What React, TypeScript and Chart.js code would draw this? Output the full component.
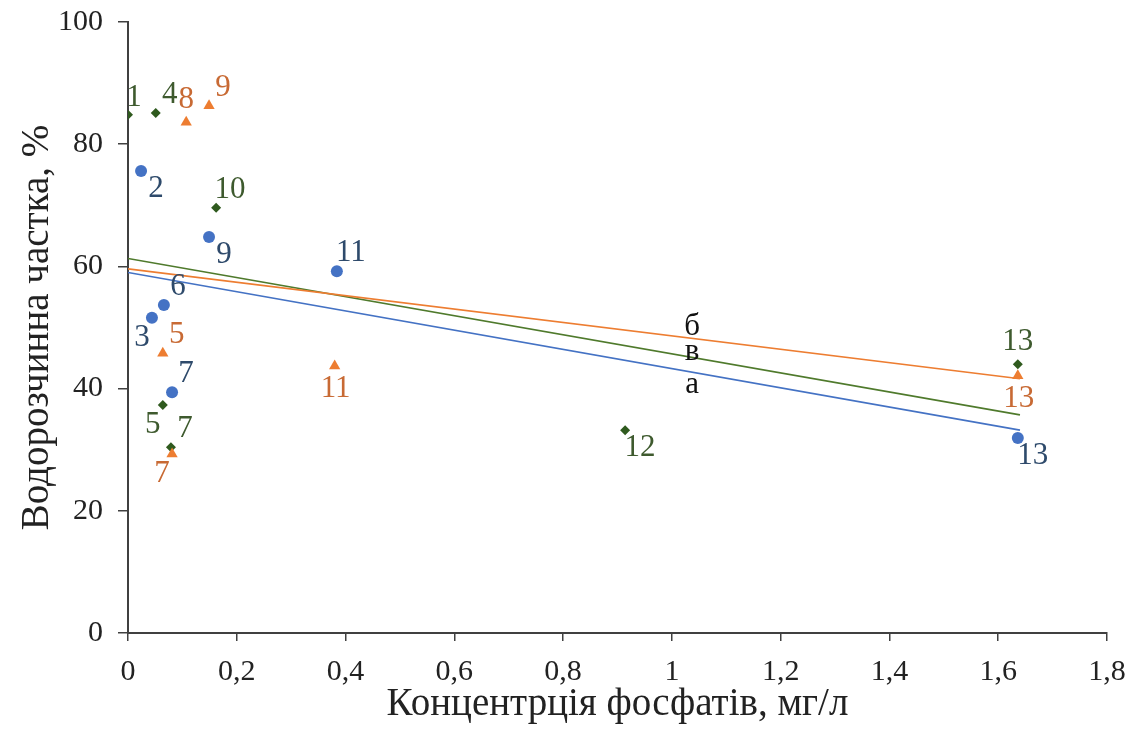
import React, { useEffect, useRef } from 'react';
import { Chart, registerables } from 'chart.js';

Chart.register(...registerables);

// Series "а" (blue circles)
const aX = [0.024, 0.149, 0.044, 0.066, 0.081, 0.384, 1.636];
const aY = [75.6, 64.8, 51.6, 53.7, 39.4, 59.2, 31.9];
const aLabels = ['2', '9', '3', '6', '7', '11', '13'];
const aPlace = ['br', 'br', 'bl', 'tr', 'tr', 'tr', 'br'];

// Series "б" (orange triangles)
const bX = [0.107, 0.149, 0.064, 0.081, 0.38, 1.636];
const bY = [83.6, 86.3, 45.8, 29.3, 43.7, 42.1];
const bLabels = ['8', '9', '5', '7', '11', '13'];
const bPlace = ['t', 'tr', 'tr', 'bl', 'b', 'b'];

// Series "в" (green diamonds)
const cX = [0.0, 0.051, 0.162, 0.064, 0.079, 0.914, 1.636];
const cY = [84.8, 85.1, 69.6, 37.3, 30.4, 33.2, 44.0];
const cLabels = ['1', '4', '10', '5', '7', '12', '13'];
const cPlace = ['trs', 'tr', 'tr', 'bl', 'tr', 'br', 't'];

// Trend lines (start x, end x and fitted values)
const trendX = [0, 1.64];
const trendA = [59.0, 33.2];
const trendB = [59.6, 41.6];
const trendC = [61.3, 35.7];

// Trend line letters
const trendLetters = ['а', 'б', 'в'];
const trendLetterX = [1.037, 1.037, 1.037];
const trendLetterY = [40.6, 50.1, 46.0];

const xTickLabels = ['0', '0,2', '0,4', '0,6', '0,8', '1', '1,2', '1,4', '1,6', '1,8'];
const yTickLabels = ['0', '20', '40', '60', '80', '100'];

const xTitle = 'Концентрція фосфатів, мг/л';
const yTitle = 'Водорозчинна частка, %';

const FONT = '"Liberation Serif", "Times New Roman", serif';
const BLUE = '#4472C4';
const ORANGE = '#ED7D31';
const GREEN = '#2F5A1E';
const GREEN_LINE = '#4F7A2C';
const AXIS = '#404040';

const OFFSETS: Record<string, [number, number]> = {
  tr: [14, -18],
  trs: [6, -17],
  br: [15, 18],
  bl: [-10, 20],
  t: [0, -22],
  b: [1, 23],
};

const pts = (xs: number[], ys: number[]) => xs.map((x, i) => ({ x, y: ys[i] }));

export default function App() {
  const ref = useRef<HTMLCanvasElement>(null);

  useEffect(() => {
    document.body.style.margin = '0';
    const canvas = ref.current;
    if (!canvas) return;

    const labelSets = [
      { labels: aLabels, place: aPlace, color: '#2E4A6B' },
      { labels: bLabels, place: bPlace, color: '#C86A34' },
      { labels: cLabels, place: cPlace, color: '#3E5A2E' },
    ];

    const labelPlugin = {
      id: 'pointLabels',
      afterDatasetsDraw(chart: any) {
        const ctx = chart.ctx;
        ctx.save();
        ctx.font = `31px ${FONT}`;
        ctx.textAlign = 'center';
        ctx.textBaseline = 'middle';
        labelSets.forEach((set, di) => {
          const meta = chart.getDatasetMeta(di);
          meta.data.forEach((el: any, j: number) => {
            const off = OFFSETS[set.place[j]] || [0, 0];
            ctx.fillStyle = set.color;
            ctx.fillText(set.labels[j], el.x + off[0], el.y + off[1]);
          });
        });
        const xs = chart.scales.x;
        const ys = chart.scales.y;
        ctx.fillStyle = '#111';
        trendLetters.forEach((t, i) => {
          ctx.fillText(t, xs.getPixelForValue(trendLetterX[i]), ys.getPixelForValue(trendLetterY[i]));
        });
        ctx.restore();
      },
    };

    const chart = new Chart(canvas, {
      type: 'scatter',
      data: {
        datasets: [
          {
            label: 'а',
            data: pts(aX, aY),
            pointStyle: 'circle',
            pointRadius: 6,
            backgroundColor: BLUE,
            borderColor: BLUE,
            borderWidth: 0,
            order: 1,
          },
          {
            label: 'б',
            data: pts(bX, bY),
            pointStyle: 'triangle',
            pointRadius: 6.5,
            backgroundColor: ORANGE,
            borderColor: ORANGE,
            borderWidth: 0,
            order: 1,
          },
          {
            label: 'в',
            data: pts(cX, cY),
            pointStyle: 'rectRot',
            pointRadius: 5,
            backgroundColor: GREEN,
            borderColor: GREEN,
            borderWidth: 0,
            order: 1,
          },
          {
            type: 'line',
            label: 'trend а',
            data: pts(trendX, trendA),
            borderColor: BLUE,
            borderWidth: 1.6,
            pointRadius: 0,
            showLine: true,
            fill: false,
            order: 2,
          } as any,
          {
            type: 'line',
            label: 'trend б',
            data: pts(trendX, trendB),
            borderColor: ORANGE,
            borderWidth: 1.6,
            pointRadius: 0,
            showLine: true,
            fill: false,
            order: 2,
          } as any,
          {
            type: 'line',
            label: 'trend в',
            data: pts(trendX, trendC),
            borderColor: GREEN_LINE,
            borderWidth: 1.6,
            pointRadius: 0,
            showLine: true,
            fill: false,
            order: 2,
          } as any,
        ],
      },
      options: {
        animation: false,
        responsive: true,
        maintainAspectRatio: false,
        layout: { padding: { left: 0, right: 25, top: 22, bottom: 0 } },
        plugins: {
          legend: { display: false },
          tooltip: { enabled: false },
        },
        scales: {
          x: {
            type: 'linear',
            min: 0,
            max: 1.8,
            afterFit: (s: any) => {
              s.height = 102;
              s.paddingLeft = 0;
              s.paddingRight = 0;
            },
            border: { display: true, color: AXIS, width: 2 },
            grid: { drawOnChartArea: false, drawTicks: true, tickLength: 8, color: AXIS, lineWidth: 1.5 },
            ticks: {
              stepSize: 0.2,
              padding: 13,
              color: '#222',
              font: { family: FONT, size: 30 },
              maxRotation: 0,
              callback: (_v: any, i: number) => xTickLabels[i],
            },
            title: {
              display: true,
              text: xTitle,
              color: '#222',
              font: { family: FONT, size: 39 },
              padding: { top: 0, bottom: 7 },
            },
          },
          y: {
            type: 'linear',
            min: 0,
            max: 100,
            afterFit: (s: any) => {
              s.width = 128;
              s.paddingTop = 0;
              s.paddingBottom = 0;
            },
            border: { display: true, color: AXIS, width: 2 },
            grid: { drawOnChartArea: false, drawTicks: true, tickLength: 10, color: AXIS, lineWidth: 1.5 },
            ticks: {
              stepSize: 20,
              padding: 15,
              color: '#222',
              font: { family: FONT, size: 30 },
              callback: (_v: any, i: number) => yTickLabels[i],
            },
            title: {
              display: true,
              text: yTitle,
              color: '#222',
              font: { family: FONT, size: 39 },
              padding: { top: 14, bottom: 0 },
            },
          },
        },
      },
      plugins: [labelPlugin],
    } as any);

    return () => chart.destroy();
  }, []);

  return (
    <div style={{ width: 1132, height: 735, position: 'relative' }}>
      <canvas ref={ref} />
    </div>
  );
}
